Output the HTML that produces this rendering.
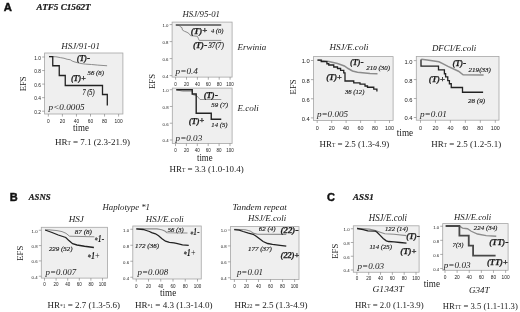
<!DOCTYPE html>
<html><head><meta charset="utf-8"><style>
html,body{margin:0;padding:0;background:#fff;width:520px;height:312px;overflow:hidden}
svg{display:block;filter:blur(0.3px)}
</style></head><body>
<svg width="520" height="312" viewBox="0 0 520 312">
<rect width="520" height="312" fill="#fff"/>
<text x="3.80" y="10.50" font-family='"Liberation Sans", sans-serif' font-size="11.3" font-style="normal" font-weight="bold" text-anchor="start" fill="#111" stroke="#111" stroke-width="0.45">A</text>
<text x="36.60" y="9.90" font-family='"Liberation Serif", serif' font-size="8.3" font-style="italic" font-weight="bold" text-anchor="start" fill="#1a1a1a" textLength="54.00" lengthAdjust="spacingAndGlyphs" stroke="#1a1a1a" stroke-width="0.2">ATF5 C1562T</text>
<text x="9.80" y="200.60" font-family='"Liberation Sans", sans-serif' font-size="11" font-style="normal" font-weight="bold" text-anchor="start" fill="#111" stroke="#111" stroke-width="0.45">B</text>
<text x="28.70" y="199.80" font-family='"Liberation Serif", serif' font-size="8.3" font-style="italic" font-weight="bold" text-anchor="start" fill="#1a1a1a" textLength="21.90" lengthAdjust="spacingAndGlyphs" stroke="#1a1a1a" stroke-width="0.2">ASNS</text>
<text x="327.00" y="200.60" font-family='"Liberation Sans", sans-serif' font-size="11" font-style="normal" font-weight="bold" text-anchor="start" fill="#111" stroke="#111" stroke-width="0.45">C</text>
<text x="353.10" y="199.80" font-family='"Liberation Serif", serif' font-size="8.3" font-style="italic" font-weight="bold" text-anchor="start" fill="#1a1a1a" textLength="20.60" lengthAdjust="spacingAndGlyphs" stroke="#1a1a1a" stroke-width="0.2">ASS1</text>
<rect x="44.60" y="53.00" width="78.30" height="61.00" fill="#efefef" stroke="#a6a6a6" stroke-width="0.8"/>
<line x1="42.10" y1="57.00" x2="44.60" y2="57.00" stroke="#777" stroke-width="0.6"/>
<text x="40.90" y="59.63" font-family='"Liberation Sans", sans-serif' font-size="4.8" font-style="normal" font-weight="normal" text-anchor="end" fill="#1a1a1a">1.0</text>
<line x1="42.10" y1="70.55" x2="44.60" y2="70.55" stroke="#777" stroke-width="0.6"/>
<text x="40.90" y="73.18" font-family='"Liberation Sans", sans-serif' font-size="4.8" font-style="normal" font-weight="normal" text-anchor="end" fill="#1a1a1a">0.8</text>
<line x1="42.10" y1="84.10" x2="44.60" y2="84.10" stroke="#777" stroke-width="0.6"/>
<text x="40.90" y="86.73" font-family='"Liberation Sans", sans-serif' font-size="4.8" font-style="normal" font-weight="normal" text-anchor="end" fill="#1a1a1a">0.6</text>
<line x1="42.10" y1="97.65" x2="44.60" y2="97.65" stroke="#777" stroke-width="0.6"/>
<text x="40.90" y="100.28" font-family='"Liberation Sans", sans-serif' font-size="4.8" font-style="normal" font-weight="normal" text-anchor="end" fill="#1a1a1a">0.4</text>
<line x1="42.10" y1="111.20" x2="44.60" y2="111.20" stroke="#777" stroke-width="0.6"/>
<text x="40.90" y="113.83" font-family='"Liberation Sans", sans-serif' font-size="4.8" font-style="normal" font-weight="normal" text-anchor="end" fill="#1a1a1a">0.2</text>
<line x1="48.35" y1="114.00" x2="48.35" y2="116.60" stroke="#777" stroke-width="0.6"/>
<text x="48.35" y="123.20" font-family='"Liberation Sans", sans-serif' font-size="4.8" font-style="normal" font-weight="normal" text-anchor="middle" fill="#222">0</text>
<line x1="62.40" y1="114.00" x2="62.40" y2="116.60" stroke="#777" stroke-width="0.6"/>
<text x="62.40" y="123.20" font-family='"Liberation Sans", sans-serif' font-size="4.8" font-style="normal" font-weight="normal" text-anchor="middle" fill="#222">20</text>
<line x1="76.45" y1="114.00" x2="76.45" y2="116.60" stroke="#777" stroke-width="0.6"/>
<text x="76.45" y="123.20" font-family='"Liberation Sans", sans-serif' font-size="4.8" font-style="normal" font-weight="normal" text-anchor="middle" fill="#222">40</text>
<line x1="90.50" y1="114.00" x2="90.50" y2="116.60" stroke="#777" stroke-width="0.6"/>
<text x="90.50" y="123.20" font-family='"Liberation Sans", sans-serif' font-size="4.8" font-style="normal" font-weight="normal" text-anchor="middle" fill="#222">60</text>
<line x1="104.55" y1="114.00" x2="104.55" y2="116.60" stroke="#777" stroke-width="0.6"/>
<text x="104.55" y="123.20" font-family='"Liberation Sans", sans-serif' font-size="4.8" font-style="normal" font-weight="normal" text-anchor="middle" fill="#222">80</text>
<line x1="118.60" y1="114.00" x2="118.60" y2="116.60" stroke="#777" stroke-width="0.6"/>
<text x="118.60" y="123.20" font-family='"Liberation Sans", sans-serif' font-size="4.8" font-style="normal" font-weight="normal" text-anchor="middle" fill="#222">100</text>
<polyline points="49.00,56.60 55.90,56.75 60.25,57.60 64.00,58.25 67.10,59.25 70.25,59.75 72.10,61.00 74.00,61.75 77.10,62.60 81.00,63.50 85.25,64.10 91.50,64.50 97.75,65.10 107.10,65.75" fill="none" stroke="#8c8c8c" stroke-width="1.0" stroke-linejoin="miter" stroke-linecap="butt"/>
<polyline points="49.00,56.60 52.75,56.60 52.75,65.75 59.25,65.75 59.25,75.50 65.25,75.50 65.25,85.50 102.50,85.50 102.50,94.50 107.30,94.50 107.30,105.60" fill="none" stroke="#222" stroke-width="1.3" stroke-linejoin="miter" stroke-linecap="butt"/>
<text x="61.30" y="48.80" font-family='"Liberation Serif", serif' font-size="9" font-style="italic" font-weight="normal" text-anchor="start" fill="#1a1a1a" textLength="38.60" lengthAdjust="spacingAndGlyphs">HSJ/91-01</text>
<text x="76.70" y="61.00" font-family='"Liberation Serif", serif' font-size="9" font-weight="bold" font-style="italic" fill="#1a1a1a" stroke="#1a1a1a" stroke-width="0.25" textLength="13.50" lengthAdjust="spacingAndGlyphs">(T)<tspan font-style="normal" font-size="10.35">-</tspan></text>
<text x="87.50" y="75.30" font-family='"Liberation Serif", serif' font-size="7.0" font-style="italic" font-weight="normal" text-anchor="start" fill="#1a1a1a" textLength="16.40" lengthAdjust="spacingAndGlyphs" stroke="#1a1a1a" stroke-width="0.15">56 (8)</text>
<text x="70.90" y="81.00" font-family='"Liberation Serif", serif' font-size="9" font-weight="bold" font-style="italic" fill="#1a1a1a" stroke="#1a1a1a" stroke-width="0.25" textLength="15.00" lengthAdjust="spacingAndGlyphs">(T)<tspan font-style="normal" font-size="9.00" dy="-0.3">+</tspan></text>
<text x="82.40" y="95.30" font-family='"Liberation Serif", serif' font-size="7.2" font-style="italic" font-weight="normal" text-anchor="start" fill="#1a1a1a" textLength="12.20" lengthAdjust="spacingAndGlyphs" stroke="#1a1a1a" stroke-width="0.15">7 (5)</text>
<text x="48.60" y="109.90" font-family='"Liberation Serif", serif' font-size="8.6" font-style="italic" font-weight="normal" text-anchor="start" fill="#1a1a1a" textLength="36.00" lengthAdjust="spacingAndGlyphs">p&lt;0.0005</text>
<text x="73.00" y="130.80" font-family='"Liberation Serif", serif' font-size="9.6" font-style="normal" font-weight="normal" text-anchor="start" fill="#1a1a1a" textLength="15.90" lengthAdjust="spacingAndGlyphs">time</text>
<text x="54.90" y="144.90" font-family='"Liberation Serif", serif' font-size="8.6" fill="#1a1a1a" textLength="75.00" lengthAdjust="spacingAndGlyphs">HR<tspan font-size="5.16">T</tspan> = 7.1 (2.3-21.9)</text>
<text x="0" y="0" transform="translate(25.70,83.80) rotate(-90)" font-family='"Liberation Serif", serif' font-size="9.2" text-anchor="middle" fill="#1a1a1a" textLength="15" lengthAdjust="spacingAndGlyphs">EFS</text>
<rect x="172.10" y="22.10" width="60.00" height="55.00" fill="#efefef" stroke="#a6a6a6" stroke-width="0.8"/>
<line x1="169.60" y1="24.60" x2="172.10" y2="24.60" stroke="#777" stroke-width="0.6"/>
<text x="168.40" y="27.05" font-family='"Liberation Sans", sans-serif' font-size="4.3" font-style="normal" font-weight="normal" text-anchor="end" fill="#1a1a1a">1.0</text>
<line x1="169.60" y1="41.60" x2="172.10" y2="41.60" stroke="#777" stroke-width="0.6"/>
<text x="168.40" y="44.05" font-family='"Liberation Sans", sans-serif' font-size="4.3" font-style="normal" font-weight="normal" text-anchor="end" fill="#1a1a1a">0.8</text>
<line x1="169.60" y1="58.60" x2="172.10" y2="58.60" stroke="#777" stroke-width="0.6"/>
<text x="168.40" y="61.05" font-family='"Liberation Sans", sans-serif' font-size="4.3" font-style="normal" font-weight="normal" text-anchor="end" fill="#1a1a1a">0.6</text>
<line x1="169.60" y1="75.60" x2="172.10" y2="75.60" stroke="#777" stroke-width="0.6"/>
<text x="168.40" y="78.05" font-family='"Liberation Sans", sans-serif' font-size="4.3" font-style="normal" font-weight="normal" text-anchor="end" fill="#1a1a1a">0.4</text>
<line x1="175.60" y1="77.10" x2="175.60" y2="79.70" stroke="#777" stroke-width="0.6"/>
<text x="175.60" y="86.00" font-family='"Liberation Sans", sans-serif' font-size="4.5" font-style="normal" font-weight="normal" text-anchor="middle" fill="#222">0</text>
<line x1="186.50" y1="77.10" x2="186.50" y2="79.70" stroke="#777" stroke-width="0.6"/>
<text x="186.50" y="86.00" font-family='"Liberation Sans", sans-serif' font-size="4.5" font-style="normal" font-weight="normal" text-anchor="middle" fill="#222">20</text>
<line x1="197.40" y1="77.10" x2="197.40" y2="79.70" stroke="#777" stroke-width="0.6"/>
<text x="197.40" y="86.00" font-family='"Liberation Sans", sans-serif' font-size="4.5" font-style="normal" font-weight="normal" text-anchor="middle" fill="#222">40</text>
<line x1="208.30" y1="77.10" x2="208.30" y2="79.70" stroke="#777" stroke-width="0.6"/>
<text x="208.30" y="86.00" font-family='"Liberation Sans", sans-serif' font-size="4.5" font-style="normal" font-weight="normal" text-anchor="middle" fill="#222">60</text>
<line x1="219.20" y1="77.10" x2="219.20" y2="79.70" stroke="#777" stroke-width="0.6"/>
<text x="219.20" y="86.00" font-family='"Liberation Sans", sans-serif' font-size="4.5" font-style="normal" font-weight="normal" text-anchor="middle" fill="#222">80</text>
<line x1="230.10" y1="77.10" x2="230.10" y2="79.70" stroke="#777" stroke-width="0.6"/>
<text x="230.10" y="86.00" font-family='"Liberation Sans", sans-serif' font-size="4.5" font-style="normal" font-weight="normal" text-anchor="middle" fill="#222">100</text>
<polyline points="175.80,25.00 179.30,25.40 180.50,26.90 182.00,27.70 182.40,30.00 184.30,31.20 187.00,32.30 189.30,33.80 190.50,35.60 197.40,36.30 198.50,38.80 199.20,40.40 221.25,40.40" fill="none" stroke="#8c8c8c" stroke-width="1.0" stroke-linejoin="miter" stroke-linecap="butt"/>
<polyline points="175.80,25.00 221.25,25.00" fill="none" stroke="#505050" stroke-width="1.7" stroke-linejoin="miter" stroke-linecap="butt"/>
<text x="182.50" y="17.30" font-family='"Liberation Serif", serif' font-size="9" font-style="italic" font-weight="normal" text-anchor="start" fill="#1a1a1a" textLength="37.50" lengthAdjust="spacingAndGlyphs">HSJ/95-01</text>
<text x="190.70" y="33.70" font-family='"Liberation Serif", serif' font-size="9" font-weight="bold" font-style="italic" fill="#1a1a1a" stroke="#1a1a1a" stroke-width="0.25" textLength="16.60" lengthAdjust="spacingAndGlyphs">(T)<tspan font-style="normal" font-size="9.00" dy="-0.3">+</tspan></text>
<text x="210.90" y="33.30" font-family='"Liberation Serif", serif' font-size="6.2" font-style="italic" font-weight="normal" text-anchor="start" fill="#1a1a1a" textLength="12.50" lengthAdjust="spacingAndGlyphs" stroke="#1a1a1a" stroke-width="0.15">4 (0)</text>
<text x="192.90" y="48.10" font-family='"Liberation Serif", serif' font-size="9" font-weight="bold" font-style="italic" fill="#1a1a1a" stroke="#1a1a1a" stroke-width="0.25" textLength="14.40" lengthAdjust="spacingAndGlyphs">(T)<tspan font-style="normal" font-size="10.35">-</tspan></text>
<text x="208.20" y="48.00" font-family='"Liberation Serif", serif' font-size="7.2" font-style="italic" font-weight="normal" text-anchor="start" fill="#1a1a1a" textLength="15.70" lengthAdjust="spacingAndGlyphs" stroke="#1a1a1a" stroke-width="0.15">37(7)</text>
<text x="175.60" y="74.00" font-family='"Liberation Serif", serif' font-size="8.6" font-style="italic" font-weight="normal" text-anchor="start" fill="#1a1a1a" textLength="22.40" lengthAdjust="spacingAndGlyphs">p=0.4</text>
<text x="237.50" y="49.80" font-family='"Liberation Serif", serif' font-size="9" font-style="italic" font-weight="normal" text-anchor="start" fill="#1a1a1a" textLength="28.80" lengthAdjust="spacingAndGlyphs">Erwinia</text>
<rect x="172.30" y="88.10" width="59.80" height="55.40" fill="#efefef" stroke="#a6a6a6" stroke-width="0.8"/>
<line x1="169.80" y1="89.70" x2="172.30" y2="89.70" stroke="#777" stroke-width="0.6"/>
<text x="168.60" y="92.15" font-family='"Liberation Sans", sans-serif' font-size="4.3" font-style="normal" font-weight="normal" text-anchor="end" fill="#1a1a1a">1.0</text>
<line x1="169.80" y1="106.47" x2="172.30" y2="106.47" stroke="#777" stroke-width="0.6"/>
<text x="168.60" y="108.91" font-family='"Liberation Sans", sans-serif' font-size="4.3" font-style="normal" font-weight="normal" text-anchor="end" fill="#1a1a1a">0.8</text>
<line x1="169.80" y1="123.23" x2="172.30" y2="123.23" stroke="#777" stroke-width="0.6"/>
<text x="168.60" y="125.68" font-family='"Liberation Sans", sans-serif' font-size="4.3" font-style="normal" font-weight="normal" text-anchor="end" fill="#1a1a1a">0.6</text>
<line x1="169.80" y1="140.00" x2="172.30" y2="140.00" stroke="#777" stroke-width="0.6"/>
<text x="168.60" y="142.45" font-family='"Liberation Sans", sans-serif' font-size="4.3" font-style="normal" font-weight="normal" text-anchor="end" fill="#1a1a1a">0.4</text>
<line x1="175.50" y1="143.50" x2="175.50" y2="146.10" stroke="#777" stroke-width="0.6"/>
<text x="175.50" y="151.90" font-family='"Liberation Sans", sans-serif' font-size="4.5" font-style="normal" font-weight="normal" text-anchor="middle" fill="#222">0</text>
<line x1="186.40" y1="143.50" x2="186.40" y2="146.10" stroke="#777" stroke-width="0.6"/>
<text x="186.40" y="151.90" font-family='"Liberation Sans", sans-serif' font-size="4.5" font-style="normal" font-weight="normal" text-anchor="middle" fill="#222">20</text>
<line x1="197.30" y1="143.50" x2="197.30" y2="146.10" stroke="#777" stroke-width="0.6"/>
<text x="197.30" y="151.90" font-family='"Liberation Sans", sans-serif' font-size="4.5" font-style="normal" font-weight="normal" text-anchor="middle" fill="#222">40</text>
<line x1="208.20" y1="143.50" x2="208.20" y2="146.10" stroke="#777" stroke-width="0.6"/>
<text x="208.20" y="151.90" font-family='"Liberation Sans", sans-serif' font-size="4.5" font-style="normal" font-weight="normal" text-anchor="middle" fill="#222">60</text>
<line x1="219.10" y1="143.50" x2="219.10" y2="146.10" stroke="#777" stroke-width="0.6"/>
<text x="219.10" y="151.90" font-family='"Liberation Sans", sans-serif' font-size="4.5" font-style="normal" font-weight="normal" text-anchor="middle" fill="#222">80</text>
<line x1="230.00" y1="143.50" x2="230.00" y2="146.10" stroke="#777" stroke-width="0.6"/>
<text x="230.00" y="151.90" font-family='"Liberation Sans", sans-serif' font-size="4.5" font-style="normal" font-weight="normal" text-anchor="middle" fill="#222">100</text>
<polyline points="176.25,89.75 182.50,91.20 192.25,91.20 192.50,94.50 197.00,96.00 200.00,99.50 221.25,99.50" fill="none" stroke="#8c8c8c" stroke-width="0.9" stroke-linejoin="miter" stroke-linecap="butt"/>
<polyline points="176.25,89.75 192.25,89.75 192.25,94.00 196.20,94.00 196.20,113.25 211.25,113.25 211.25,119.25 221.25,119.25" fill="none" stroke="#222" stroke-width="1.4" stroke-linejoin="miter" stroke-linecap="butt"/>
<text x="203.75" y="97.50" font-family='"Liberation Serif", serif' font-size="9" font-weight="bold" font-style="italic" fill="#1a1a1a" stroke="#1a1a1a" stroke-width="0.25" textLength="14.30" lengthAdjust="spacingAndGlyphs">(T)<tspan font-style="normal" font-size="10.35">-</tspan></text>
<text x="211.30" y="106.80" font-family='"Liberation Serif", serif' font-size="6.5" font-style="italic" font-weight="normal" text-anchor="start" fill="#1a1a1a" textLength="16.70" lengthAdjust="spacingAndGlyphs" stroke="#1a1a1a" stroke-width="0.15">59 (7)</text>
<text x="188.75" y="123.60" font-family='"Liberation Serif", serif' font-size="9" font-weight="bold" font-style="italic" fill="#1a1a1a" stroke="#1a1a1a" stroke-width="0.25" textLength="15.70" lengthAdjust="spacingAndGlyphs">(T)<tspan font-style="normal" font-size="9.00" dy="-0.3">+</tspan></text>
<text x="211.30" y="126.90" font-family='"Liberation Serif", serif' font-size="6.5" font-style="italic" font-weight="normal" text-anchor="start" fill="#1a1a1a" textLength="16.20" lengthAdjust="spacingAndGlyphs" stroke="#1a1a1a" stroke-width="0.15">14 (5)</text>
<text x="175.60" y="141.00" font-family='"Liberation Serif", serif' font-size="8.6" font-style="italic" font-weight="normal" text-anchor="start" fill="#1a1a1a" textLength="26.60" lengthAdjust="spacingAndGlyphs">p=0.03</text>
<text x="237.50" y="111.00" font-family='"Liberation Serif", serif' font-size="9" font-style="italic" font-weight="normal" text-anchor="start" fill="#1a1a1a" textLength="21.30" lengthAdjust="spacingAndGlyphs">E.coli</text>
<text x="197.00" y="160.80" font-family='"Liberation Serif", serif' font-size="9.6" font-style="normal" font-weight="normal" text-anchor="start" fill="#1a1a1a" textLength="15.60" lengthAdjust="spacingAndGlyphs">time</text>
<text x="169.50" y="172.20" font-family='"Liberation Serif", serif' font-size="8.6" fill="#1a1a1a" textLength="74.20" lengthAdjust="spacingAndGlyphs">HR<tspan font-size="5.16">T</tspan> = 3.3 (1.0-10.4)</text>
<text x="0" y="0" transform="translate(154.70,81.50) rotate(-90)" font-family='"Liberation Serif", serif' font-size="9.2" text-anchor="middle" fill="#1a1a1a" textLength="15" lengthAdjust="spacingAndGlyphs">EFS</text>
<rect x="313.40" y="56.60" width="79.70" height="63.80" fill="#efefef" stroke="#a6a6a6" stroke-width="0.8"/>
<line x1="310.90" y1="60.50" x2="313.40" y2="60.50" stroke="#777" stroke-width="0.6"/>
<text x="309.70" y="63.49" font-family='"Liberation Sans", sans-serif' font-size="5.8" font-style="normal" font-weight="normal" text-anchor="end" fill="#1a1a1a">1.0</text>
<line x1="310.90" y1="79.63" x2="313.40" y2="79.63" stroke="#777" stroke-width="0.6"/>
<text x="309.70" y="82.62" font-family='"Liberation Sans", sans-serif' font-size="5.8" font-style="normal" font-weight="normal" text-anchor="end" fill="#1a1a1a">0.8</text>
<line x1="310.90" y1="98.77" x2="313.40" y2="98.77" stroke="#777" stroke-width="0.6"/>
<text x="309.70" y="101.75" font-family='"Liberation Sans", sans-serif' font-size="5.8" font-style="normal" font-weight="normal" text-anchor="end" fill="#1a1a1a">0.6</text>
<line x1="310.90" y1="117.90" x2="313.40" y2="117.90" stroke="#777" stroke-width="0.6"/>
<text x="309.70" y="120.89" font-family='"Liberation Sans", sans-serif' font-size="5.8" font-style="normal" font-weight="normal" text-anchor="end" fill="#1a1a1a">0.4</text>
<line x1="317.20" y1="120.40" x2="317.20" y2="123.00" stroke="#777" stroke-width="0.6"/>
<text x="317.20" y="130.00" font-family='"Liberation Sans", sans-serif' font-size="5.4" font-style="normal" font-weight="normal" text-anchor="middle" fill="#222">0</text>
<line x1="331.66" y1="120.40" x2="331.66" y2="123.00" stroke="#777" stroke-width="0.6"/>
<text x="331.66" y="130.00" font-family='"Liberation Sans", sans-serif' font-size="5.4" font-style="normal" font-weight="normal" text-anchor="middle" fill="#222">20</text>
<line x1="346.12" y1="120.40" x2="346.12" y2="123.00" stroke="#777" stroke-width="0.6"/>
<text x="346.12" y="130.00" font-family='"Liberation Sans", sans-serif' font-size="5.4" font-style="normal" font-weight="normal" text-anchor="middle" fill="#222">40</text>
<line x1="360.58" y1="120.40" x2="360.58" y2="123.00" stroke="#777" stroke-width="0.6"/>
<text x="360.58" y="130.00" font-family='"Liberation Sans", sans-serif' font-size="5.4" font-style="normal" font-weight="normal" text-anchor="middle" fill="#222">60</text>
<line x1="375.04" y1="120.40" x2="375.04" y2="123.00" stroke="#777" stroke-width="0.6"/>
<text x="375.04" y="130.00" font-family='"Liberation Sans", sans-serif' font-size="5.4" font-style="normal" font-weight="normal" text-anchor="middle" fill="#222">80</text>
<line x1="389.50" y1="120.40" x2="389.50" y2="123.00" stroke="#777" stroke-width="0.6"/>
<text x="389.50" y="130.00" font-family='"Liberation Sans", sans-serif' font-size="5.4" font-style="normal" font-weight="normal" text-anchor="middle" fill="#222">100</text>
<polyline points="317.50,60.10 328.75,61.60 337.50,63.50 344.40,66.00 348.10,68.50 352.50,71.00 357.50,72.25 365.00,72.90 370.00,73.50 377.50,73.75" fill="none" stroke="#8c8c8c" stroke-width="1.5" stroke-linejoin="miter" stroke-linecap="butt"/>
<polyline points="317.50,60.10 321.25,60.10 321.25,61.60 326.90,61.60 326.90,63.75 328.75,63.75 328.75,65.00 333.75,65.00 333.75,67.00 337.50,67.00 337.50,68.50 340.60,68.50 340.60,70.40 343.75,70.40 343.75,72.90 345.00,72.90 345.00,81.00 353.75,81.00 353.75,82.90 360.00,82.90 360.00,84.10 365.00,84.10 365.00,86.00 367.50,86.00 367.50,87.25 373.75,87.25 373.75,89.10 376.90,89.10 376.90,91.60" fill="none" stroke="#222" stroke-width="1.3" stroke-linejoin="miter" stroke-linecap="butt"/>
<text x="329.40" y="49.90" font-family='"Liberation Serif", serif' font-size="9" font-style="italic" font-weight="normal" text-anchor="start" fill="#1a1a1a" textLength="39.10" lengthAdjust="spacingAndGlyphs">HSJ/E.coli</text>
<text x="350.00" y="65.30" font-family='"Liberation Serif", serif' font-size="9" font-weight="bold" font-style="italic" fill="#1a1a1a" stroke="#1a1a1a" stroke-width="0.25" textLength="13.50" lengthAdjust="spacingAndGlyphs">(T)<tspan font-style="normal" font-size="10.35">-</tspan></text>
<text x="366.30" y="69.50" font-family='"Liberation Serif", serif' font-size="6.8" font-style="italic" font-weight="normal" text-anchor="start" fill="#1a1a1a" textLength="23.70" lengthAdjust="spacingAndGlyphs" stroke="#1a1a1a" stroke-width="0.15">210 (30)</text>
<text x="326.25" y="80.00" font-family='"Liberation Serif", serif' font-size="9" font-weight="bold" font-style="italic" fill="#1a1a1a" stroke="#1a1a1a" stroke-width="0.25" textLength="15.60" lengthAdjust="spacingAndGlyphs">(T)<tspan font-style="normal" font-size="9.00" dy="-0.3">+</tspan></text>
<text x="345.00" y="93.70" font-family='"Liberation Serif", serif' font-size="7.0" font-style="italic" font-weight="normal" text-anchor="start" fill="#1a1a1a" textLength="19.40" lengthAdjust="spacingAndGlyphs" stroke="#1a1a1a" stroke-width="0.15">36 (12)</text>
<text x="316.90" y="116.90" font-family='"Liberation Serif", serif' font-size="9.2" font-style="italic" font-weight="normal" text-anchor="start" fill="#1a1a1a" textLength="31.20" lengthAdjust="spacingAndGlyphs">p=0.005</text>
<text x="396.80" y="136.20" font-family='"Liberation Serif", serif' font-size="9.6" font-style="normal" font-weight="normal" text-anchor="start" fill="#1a1a1a" textLength="16.30" lengthAdjust="spacingAndGlyphs">time</text>
<text x="319.50" y="146.60" font-family='"Liberation Serif", serif' font-size="8.6" fill="#1a1a1a" textLength="69.70" lengthAdjust="spacingAndGlyphs">HR<tspan font-size="5.16">T</tspan> = 2.5 (1.3-4.9)</text>
<text x="0" y="0" transform="translate(295.80,86.90) rotate(-90)" font-family='"Liberation Serif", serif' font-size="9.2" text-anchor="middle" fill="#1a1a1a" textLength="15" lengthAdjust="spacingAndGlyphs">EFS</text>
<rect x="416.30" y="56.50" width="82.70" height="63.70" fill="#efefef" stroke="#a6a6a6" stroke-width="0.8"/>
<line x1="413.80" y1="60.60" x2="416.30" y2="60.60" stroke="#777" stroke-width="0.6"/>
<text x="412.60" y="63.59" font-family='"Liberation Sans", sans-serif' font-size="5.8" font-style="normal" font-weight="normal" text-anchor="end" fill="#1a1a1a">1.0</text>
<line x1="413.80" y1="79.57" x2="416.30" y2="79.57" stroke="#777" stroke-width="0.6"/>
<text x="412.60" y="82.55" font-family='"Liberation Sans", sans-serif' font-size="5.8" font-style="normal" font-weight="normal" text-anchor="end" fill="#1a1a1a">0.8</text>
<line x1="413.80" y1="98.53" x2="416.30" y2="98.53" stroke="#777" stroke-width="0.6"/>
<text x="412.60" y="101.52" font-family='"Liberation Sans", sans-serif' font-size="5.8" font-style="normal" font-weight="normal" text-anchor="end" fill="#1a1a1a">0.6</text>
<line x1="413.80" y1="117.50" x2="416.30" y2="117.50" stroke="#777" stroke-width="0.6"/>
<text x="412.60" y="120.49" font-family='"Liberation Sans", sans-serif' font-size="5.8" font-style="normal" font-weight="normal" text-anchor="end" fill="#1a1a1a">0.4</text>
<line x1="420.50" y1="120.20" x2="420.50" y2="122.80" stroke="#777" stroke-width="0.6"/>
<text x="420.50" y="130.00" font-family='"Liberation Sans", sans-serif' font-size="5.4" font-style="normal" font-weight="normal" text-anchor="middle" fill="#222">0</text>
<line x1="435.46" y1="120.20" x2="435.46" y2="122.80" stroke="#777" stroke-width="0.6"/>
<text x="435.46" y="130.00" font-family='"Liberation Sans", sans-serif' font-size="5.4" font-style="normal" font-weight="normal" text-anchor="middle" fill="#222">20</text>
<line x1="450.42" y1="120.20" x2="450.42" y2="122.80" stroke="#777" stroke-width="0.6"/>
<text x="450.42" y="130.00" font-family='"Liberation Sans", sans-serif' font-size="5.4" font-style="normal" font-weight="normal" text-anchor="middle" fill="#222">40</text>
<line x1="465.38" y1="120.20" x2="465.38" y2="122.80" stroke="#777" stroke-width="0.6"/>
<text x="465.38" y="130.00" font-family='"Liberation Sans", sans-serif' font-size="5.4" font-style="normal" font-weight="normal" text-anchor="middle" fill="#222">60</text>
<line x1="480.34" y1="120.20" x2="480.34" y2="122.80" stroke="#777" stroke-width="0.6"/>
<text x="480.34" y="130.00" font-family='"Liberation Sans", sans-serif' font-size="5.4" font-style="normal" font-weight="normal" text-anchor="middle" fill="#222">80</text>
<line x1="495.30" y1="120.20" x2="495.30" y2="122.80" stroke="#777" stroke-width="0.6"/>
<text x="495.30" y="130.00" font-family='"Liberation Sans", sans-serif' font-size="5.4" font-style="normal" font-weight="normal" text-anchor="middle" fill="#222">100</text>
<polyline points="421.30,59.20 427.20,59.90 438.90,61.80 442.20,63.40 448.00,66.40 458.50,71.20 463.10,74.80 483.60,75.10" fill="none" stroke="#8c8c8c" stroke-width="1.5" stroke-linejoin="miter" stroke-linecap="butt"/>
<polyline points="421.00,59.50 421.00,66.10 438.50,66.10 438.50,69.90 444.40,69.90 444.40,73.75 445.60,73.75 445.60,76.90 447.75,76.90 447.75,80.60 449.40,80.60 449.40,83.75 451.25,83.75 451.25,87.50 462.50,87.50 462.50,92.25 483.10,92.25" fill="none" stroke="#222" stroke-width="1.3" stroke-linejoin="miter" stroke-linecap="butt"/>
<text x="431.90" y="50.80" font-family='"Liberation Serif", serif' font-size="9" font-style="italic" font-weight="normal" text-anchor="start" fill="#1a1a1a" textLength="44.30" lengthAdjust="spacingAndGlyphs">DFCI/E.coli</text>
<text x="452.50" y="66.00" font-family='"Liberation Serif", serif' font-size="9" font-weight="bold" font-style="italic" fill="#1a1a1a" stroke="#1a1a1a" stroke-width="0.25" textLength="13.80" lengthAdjust="spacingAndGlyphs">(T)<tspan font-style="normal" font-size="10.35">-</tspan></text>
<text x="468.50" y="72.30" font-family='"Liberation Serif", serif' font-size="6.7" font-style="italic" font-weight="normal" text-anchor="start" fill="#1a1a1a" textLength="22.50" lengthAdjust="spacingAndGlyphs" stroke="#1a1a1a" stroke-width="0.15">219(33)</text>
<text x="428.75" y="82.40" font-family='"Liberation Serif", serif' font-size="9" font-weight="bold" font-style="italic" fill="#1a1a1a" stroke="#1a1a1a" stroke-width="0.25" textLength="16.20" lengthAdjust="spacingAndGlyphs">(T)<tspan font-style="normal" font-size="9.00" dy="-0.3">+</tspan></text>
<text x="468.10" y="103.10" font-family='"Liberation Serif", serif' font-size="6.5" font-style="italic" font-weight="normal" text-anchor="start" fill="#1a1a1a" textLength="16.90" lengthAdjust="spacingAndGlyphs" stroke="#1a1a1a" stroke-width="0.15">28 (9)</text>
<text x="420.00" y="117.20" font-family='"Liberation Serif", serif' font-size="9.2" font-style="italic" font-weight="normal" text-anchor="start" fill="#1a1a1a" textLength="26.90" lengthAdjust="spacingAndGlyphs">p=0.01</text>
<text x="431.30" y="146.90" font-family='"Liberation Serif", serif' font-size="8.6" fill="#1a1a1a" textLength="70.00" lengthAdjust="spacingAndGlyphs">HR<tspan font-size="5.16">T</tspan> = 2.5 (1.2-5.1)</text>
<rect x="41.30" y="227.30" width="66.20" height="50.80" fill="#efefef" stroke="#a6a6a6" stroke-width="0.8"/>
<line x1="38.80" y1="230.25" x2="41.30" y2="230.25" stroke="#777" stroke-width="0.6"/>
<text x="37.60" y="232.70" font-family='"Liberation Sans", sans-serif' font-size="4.3" font-style="normal" font-weight="normal" text-anchor="end" fill="#1a1a1a">1.0</text>
<line x1="38.80" y1="245.58" x2="41.30" y2="245.58" stroke="#777" stroke-width="0.6"/>
<text x="37.60" y="248.03" font-family='"Liberation Sans", sans-serif' font-size="4.3" font-style="normal" font-weight="normal" text-anchor="end" fill="#1a1a1a">0.8</text>
<line x1="38.80" y1="260.92" x2="41.30" y2="260.92" stroke="#777" stroke-width="0.6"/>
<text x="37.60" y="263.36" font-family='"Liberation Sans", sans-serif' font-size="4.3" font-style="normal" font-weight="normal" text-anchor="end" fill="#1a1a1a">0.6</text>
<line x1="38.80" y1="276.25" x2="41.30" y2="276.25" stroke="#777" stroke-width="0.6"/>
<text x="37.60" y="278.70" font-family='"Liberation Sans", sans-serif' font-size="4.3" font-style="normal" font-weight="normal" text-anchor="end" fill="#1a1a1a">0.4</text>
<line x1="44.50" y1="278.10" x2="44.50" y2="280.70" stroke="#777" stroke-width="0.6"/>
<text x="44.50" y="286.40" font-family='"Liberation Sans", sans-serif' font-size="4.5" font-style="normal" font-weight="normal" text-anchor="middle" fill="#222">0</text>
<line x1="56.10" y1="278.10" x2="56.10" y2="280.70" stroke="#777" stroke-width="0.6"/>
<text x="56.10" y="286.40" font-family='"Liberation Sans", sans-serif' font-size="4.5" font-style="normal" font-weight="normal" text-anchor="middle" fill="#222">20</text>
<line x1="67.70" y1="278.10" x2="67.70" y2="280.70" stroke="#777" stroke-width="0.6"/>
<text x="67.70" y="286.40" font-family='"Liberation Sans", sans-serif' font-size="4.5" font-style="normal" font-weight="normal" text-anchor="middle" fill="#222">40</text>
<line x1="79.30" y1="278.10" x2="79.30" y2="280.70" stroke="#777" stroke-width="0.6"/>
<text x="79.30" y="286.40" font-family='"Liberation Sans", sans-serif' font-size="4.5" font-style="normal" font-weight="normal" text-anchor="middle" fill="#222">60</text>
<line x1="90.90" y1="278.10" x2="90.90" y2="280.70" stroke="#777" stroke-width="0.6"/>
<text x="90.90" y="286.40" font-family='"Liberation Sans", sans-serif' font-size="4.5" font-style="normal" font-weight="normal" text-anchor="middle" fill="#222">80</text>
<line x1="102.50" y1="278.10" x2="102.50" y2="280.70" stroke="#777" stroke-width="0.6"/>
<text x="102.50" y="286.40" font-family='"Liberation Sans", sans-serif' font-size="4.5" font-style="normal" font-weight="normal" text-anchor="middle" fill="#222">100</text>
<polyline points="45.10,230.00 48.25,229.75 57.00,230.60 62.00,231.60 66.00,233.30 69.50,236.20 94.40,236.80" fill="none" stroke="#8c8c8c" stroke-width="1.0" stroke-linejoin="miter" stroke-linecap="butt"/>
<polyline points="45.10,230.00 52.00,232.50 58.25,235.00 65.75,237.50 68.90,240.60 72.60,243.75 77.00,245.00 84.50,246.25 93.90,247.50" fill="none" stroke="#222" stroke-width="1.3" stroke-linejoin="miter" stroke-linecap="butt"/>
<text x="68.70" y="221.50" font-family='"Liberation Serif", serif' font-size="9.2" font-style="italic" font-weight="normal" text-anchor="start" fill="#1a1a1a" textLength="15.20" lengthAdjust="spacingAndGlyphs">HSJ</text>
<text x="74.80" y="234.00" font-family='"Liberation Serif", serif' font-size="6.5" font-style="italic" font-weight="normal" text-anchor="start" fill="#1a1a1a" textLength="17.20" lengthAdjust="spacingAndGlyphs" stroke="#1a1a1a" stroke-width="0.15">87 (8)</text>
<text x="94.2" y="242.0" font-family='"Liberation Serif", serif' font-size="8.6" font-weight="bold" font-style="italic" fill="#1a1a1a" textLength="10.2" lengthAdjust="spacingAndGlyphs"><tspan dy="1.2">*</tspan><tspan font-size="9.6" dy="-1.2">1</tspan><tspan font-style="normal" font-size="10.5">-</tspan></text>
<text x="48.90" y="250.50" font-family='"Liberation Serif", serif' font-size="6.6" font-style="italic" font-weight="normal" text-anchor="start" fill="#1a1a1a" textLength="23.70" lengthAdjust="spacingAndGlyphs" stroke="#1a1a1a" stroke-width="0.15">229 (52)</text>
<text x="87.3" y="258.6" font-family='"Liberation Serif", serif' font-size="8.6" font-weight="bold" font-style="italic" fill="#1a1a1a" textLength="12.4" lengthAdjust="spacingAndGlyphs"><tspan dy="1.2">*</tspan><tspan font-size="9.6" dy="-1.2">1</tspan><tspan font-style="normal" font-weight="normal" font-size="9.5">+</tspan></text>
<text x="45.60" y="274.60" font-family='"Liberation Serif", serif' font-size="8.6" font-style="italic" font-weight="normal" text-anchor="start" fill="#1a1a1a" textLength="30.60" lengthAdjust="spacingAndGlyphs">p=0.007</text>
<text x="47.50" y="308.20" font-family='"Liberation Serif", serif' font-size="8.6" fill="#1a1a1a" textLength="72.50" lengthAdjust="spacingAndGlyphs">HR<tspan font-size="5.16">*1</tspan> = 2.7 (1.3-5.6)</text>
<text x="0" y="0" transform="translate(22.60,253.20) rotate(-90)" font-family='"Liberation Serif", serif' font-size="9.2" text-anchor="middle" fill="#1a1a1a" textLength="15" lengthAdjust="spacingAndGlyphs">EFS</text>
<rect x="132.80" y="226.00" width="68.45" height="53.00" fill="#efefef" stroke="#a6a6a6" stroke-width="0.8"/>
<line x1="130.30" y1="229.25" x2="132.80" y2="229.25" stroke="#777" stroke-width="0.6"/>
<text x="129.10" y="231.70" font-family='"Liberation Sans", sans-serif' font-size="4.3" font-style="normal" font-weight="normal" text-anchor="end" fill="#1a1a1a">1.0</text>
<line x1="130.30" y1="245.25" x2="132.80" y2="245.25" stroke="#777" stroke-width="0.6"/>
<text x="129.10" y="247.70" font-family='"Liberation Sans", sans-serif' font-size="4.3" font-style="normal" font-weight="normal" text-anchor="end" fill="#1a1a1a">0.8</text>
<line x1="130.30" y1="261.25" x2="132.80" y2="261.25" stroke="#777" stroke-width="0.6"/>
<text x="129.10" y="263.70" font-family='"Liberation Sans", sans-serif' font-size="4.3" font-style="normal" font-weight="normal" text-anchor="end" fill="#1a1a1a">0.6</text>
<line x1="130.30" y1="277.25" x2="132.80" y2="277.25" stroke="#777" stroke-width="0.6"/>
<text x="129.10" y="279.70" font-family='"Liberation Sans", sans-serif' font-size="4.3" font-style="normal" font-weight="normal" text-anchor="end" fill="#1a1a1a">0.4</text>
<line x1="136.25" y1="279.00" x2="136.25" y2="281.60" stroke="#777" stroke-width="0.6"/>
<text x="136.25" y="287.60" font-family='"Liberation Sans", sans-serif' font-size="4.5" font-style="normal" font-weight="normal" text-anchor="middle" fill="#222">0</text>
<line x1="148.50" y1="279.00" x2="148.50" y2="281.60" stroke="#777" stroke-width="0.6"/>
<text x="148.50" y="287.60" font-family='"Liberation Sans", sans-serif' font-size="4.5" font-style="normal" font-weight="normal" text-anchor="middle" fill="#222">20</text>
<line x1="160.75" y1="279.00" x2="160.75" y2="281.60" stroke="#777" stroke-width="0.6"/>
<text x="160.75" y="287.60" font-family='"Liberation Sans", sans-serif' font-size="4.5" font-style="normal" font-weight="normal" text-anchor="middle" fill="#222">40</text>
<line x1="173.00" y1="279.00" x2="173.00" y2="281.60" stroke="#777" stroke-width="0.6"/>
<text x="173.00" y="287.60" font-family='"Liberation Sans", sans-serif' font-size="4.5" font-style="normal" font-weight="normal" text-anchor="middle" fill="#222">60</text>
<line x1="185.25" y1="279.00" x2="185.25" y2="281.60" stroke="#777" stroke-width="0.6"/>
<text x="185.25" y="287.60" font-family='"Liberation Sans", sans-serif' font-size="4.5" font-style="normal" font-weight="normal" text-anchor="middle" fill="#222">80</text>
<line x1="197.50" y1="279.00" x2="197.50" y2="281.60" stroke="#777" stroke-width="0.6"/>
<text x="197.50" y="287.60" font-family='"Liberation Sans", sans-serif' font-size="4.5" font-style="normal" font-weight="normal" text-anchor="middle" fill="#222">100</text>
<polyline points="136.30,228.90 157.10,228.90 161.70,229.80 164.80,231.00 167.00,232.70 187.50,233.00" fill="none" stroke="#8c8c8c" stroke-width="1.1" stroke-linejoin="miter" stroke-linecap="butt"/>
<polyline points="136.30,228.80 143.20,229.50 146.30,230.50 149.40,231.50 151.70,232.70 155.50,233.80 158.60,235.80 161.70,238.50 165.50,241.20 169.40,242.30 174.00,242.90 177.50,243.60 182.50,244.80 188.75,245.40" fill="none" stroke="#222" stroke-width="1.3" stroke-linejoin="miter" stroke-linecap="butt"/>
<text x="102.50" y="209.90" font-family='"Liberation Serif", serif' font-size="9" font-style="italic" font-weight="normal" text-anchor="start" fill="#1a1a1a" textLength="47.50" lengthAdjust="spacingAndGlyphs">Haplotype *1</text>
<text x="145.80" y="221.80" font-family='"Liberation Serif", serif' font-size="9.2" font-style="italic" font-weight="normal" text-anchor="start" fill="#1a1a1a" textLength="38.00" lengthAdjust="spacingAndGlyphs">HSJ/E.coli</text>
<text x="167.70" y="231.80" font-family='"Liberation Serif", serif' font-size="6.5" font-style="italic" font-weight="normal" text-anchor="start" fill="#1a1a1a" textLength="16.00" lengthAdjust="spacingAndGlyphs" stroke="#1a1a1a" stroke-width="0.15">56 (3)</text>
<text x="189.9" y="235.4" font-family='"Liberation Serif", serif' font-size="8.6" font-weight="bold" font-style="italic" fill="#1a1a1a" textLength="9.7" lengthAdjust="spacingAndGlyphs"><tspan dy="1.2">*</tspan><tspan font-size="9.6" dy="-1.2">1</tspan><tspan font-style="normal" font-size="10.5">-</tspan></text>
<text x="135.00" y="247.50" font-family='"Liberation Serif", serif' font-size="6.5" font-style="italic" font-weight="normal" text-anchor="start" fill="#1a1a1a" textLength="24.00" lengthAdjust="spacingAndGlyphs" stroke="#1a1a1a" stroke-width="0.15">172 (36)</text>
<text x="183.2" y="255.6" font-family='"Liberation Serif", serif' font-size="8.6" font-weight="bold" font-style="italic" fill="#1a1a1a" textLength="12.2" lengthAdjust="spacingAndGlyphs"><tspan dy="1.2">*</tspan><tspan font-size="9.6" dy="-1.2">1</tspan><tspan font-style="normal" font-weight="normal" font-size="9.5">+</tspan></text>
<text x="137.50" y="274.60" font-family='"Liberation Serif", serif' font-size="8.6" font-style="italic" font-weight="normal" text-anchor="start" fill="#1a1a1a" textLength="30.60" lengthAdjust="spacingAndGlyphs">p=0.008</text>
<text x="160.00" y="296.30" font-family='"Liberation Serif", serif' font-size="9.6" font-style="normal" font-weight="normal" text-anchor="start" fill="#1a1a1a" textLength="16.20" lengthAdjust="spacingAndGlyphs">time</text>
<text x="135.00" y="308.40" font-family='"Liberation Serif", serif' font-size="8.6" fill="#1a1a1a" textLength="77.50" lengthAdjust="spacingAndGlyphs">HR<tspan font-size="5.16">*1</tspan> = 4.3 (1.3-14.0)</text>
<rect x="230.40" y="226.60" width="68.60" height="52.80" fill="#efefef" stroke="#a6a6a6" stroke-width="0.8"/>
<line x1="227.90" y1="230.00" x2="230.40" y2="230.00" stroke="#777" stroke-width="0.6"/>
<text x="226.70" y="232.45" font-family='"Liberation Sans", sans-serif' font-size="4.3" font-style="normal" font-weight="normal" text-anchor="end" fill="#1a1a1a">1.0</text>
<line x1="227.90" y1="245.92" x2="230.40" y2="245.92" stroke="#777" stroke-width="0.6"/>
<text x="226.70" y="248.36" font-family='"Liberation Sans", sans-serif' font-size="4.3" font-style="normal" font-weight="normal" text-anchor="end" fill="#1a1a1a">0.8</text>
<line x1="227.90" y1="261.83" x2="230.40" y2="261.83" stroke="#777" stroke-width="0.6"/>
<text x="226.70" y="264.28" font-family='"Liberation Sans", sans-serif' font-size="4.3" font-style="normal" font-weight="normal" text-anchor="end" fill="#1a1a1a">0.6</text>
<line x1="227.90" y1="277.75" x2="230.40" y2="277.75" stroke="#777" stroke-width="0.6"/>
<text x="226.70" y="280.20" font-family='"Liberation Sans", sans-serif' font-size="4.3" font-style="normal" font-weight="normal" text-anchor="end" fill="#1a1a1a">0.4</text>
<line x1="234.40" y1="279.40" x2="234.40" y2="282.00" stroke="#777" stroke-width="0.6"/>
<text x="234.40" y="288.00" font-family='"Liberation Sans", sans-serif' font-size="4.5" font-style="normal" font-weight="normal" text-anchor="middle" fill="#222">0</text>
<line x1="246.44" y1="279.40" x2="246.44" y2="282.00" stroke="#777" stroke-width="0.6"/>
<text x="246.44" y="288.00" font-family='"Liberation Sans", sans-serif' font-size="4.5" font-style="normal" font-weight="normal" text-anchor="middle" fill="#222">20</text>
<line x1="258.48" y1="279.40" x2="258.48" y2="282.00" stroke="#777" stroke-width="0.6"/>
<text x="258.48" y="288.00" font-family='"Liberation Sans", sans-serif' font-size="4.5" font-style="normal" font-weight="normal" text-anchor="middle" fill="#222">40</text>
<line x1="270.52" y1="279.40" x2="270.52" y2="282.00" stroke="#777" stroke-width="0.6"/>
<text x="270.52" y="288.00" font-family='"Liberation Sans", sans-serif' font-size="4.5" font-style="normal" font-weight="normal" text-anchor="middle" fill="#222">60</text>
<line x1="282.56" y1="279.40" x2="282.56" y2="282.00" stroke="#777" stroke-width="0.6"/>
<text x="282.56" y="288.00" font-family='"Liberation Sans", sans-serif' font-size="4.5" font-style="normal" font-weight="normal" text-anchor="middle" fill="#222">80</text>
<line x1="294.60" y1="279.40" x2="294.60" y2="282.00" stroke="#777" stroke-width="0.6"/>
<text x="294.60" y="288.00" font-family='"Liberation Sans", sans-serif' font-size="4.5" font-style="normal" font-weight="normal" text-anchor="middle" fill="#222">100</text>
<polyline points="234.20,229.40 245.40,229.80 250.00,230.90 253.80,233.40 257.70,234.20 286.25,234.40" fill="none" stroke="#8c8c8c" stroke-width="1.1" stroke-linejoin="miter" stroke-linecap="butt"/>
<polyline points="234.20,229.60 239.20,230.20 243.10,231.50 248.50,233.10 253.10,234.30 256.20,236.20 259.20,238.50 263.10,241.50 267.70,243.50 272.50,244.40 280.00,245.40 286.25,246.20" fill="none" stroke="#222" stroke-width="1.3" stroke-linejoin="miter" stroke-linecap="butt"/>
<text x="232.50" y="210.10" font-family='"Liberation Serif", serif' font-size="9" font-style="italic" font-weight="normal" text-anchor="start" fill="#1a1a1a" textLength="54.40" lengthAdjust="spacingAndGlyphs">Tandem repeat</text>
<text x="248.10" y="221.30" font-family='"Liberation Serif", serif' font-size="9" font-style="italic" font-weight="normal" text-anchor="start" fill="#1a1a1a" textLength="38.10" lengthAdjust="spacingAndGlyphs">HSJ/E.coli</text>
<text x="258.80" y="231.20" font-family='"Liberation Serif", serif' font-size="6.5" font-style="italic" font-weight="normal" text-anchor="start" fill="#1a1a1a" textLength="16.80" lengthAdjust="spacingAndGlyphs" stroke="#1a1a1a" stroke-width="0.15">62 (4)</text>
<text x="280.60" y="232.60" font-family='"Liberation Serif", serif' font-size="8.8" font-weight="bold" font-style="italic" fill="#1a1a1a" stroke="#1a1a1a" stroke-width="0.25" textLength="18.10" lengthAdjust="spacingAndGlyphs">(22)<tspan font-style="normal" font-size="10.12">-</tspan></text>
<text x="248.10" y="250.80" font-family='"Liberation Serif", serif' font-size="6.4" font-style="italic" font-weight="normal" text-anchor="start" fill="#1a1a1a" textLength="23.80" lengthAdjust="spacingAndGlyphs" stroke="#1a1a1a" stroke-width="0.15">177 (37)</text>
<text x="280.60" y="258.30" font-family='"Liberation Serif", serif' font-size="8.8" font-weight="bold" font-style="italic" fill="#1a1a1a" stroke="#1a1a1a" stroke-width="0.25" textLength="18.80" lengthAdjust="spacingAndGlyphs">(22)<tspan font-style="normal" font-size="8.80" dy="-0.3">+</tspan></text>
<text x="236.90" y="275.40" font-family='"Liberation Serif", serif' font-size="8.6" font-style="italic" font-weight="normal" text-anchor="start" fill="#1a1a1a" textLength="26.20" lengthAdjust="spacingAndGlyphs">p=0.01</text>
<text x="234.50" y="308.20" font-family='"Liberation Serif", serif' font-size="8.6" fill="#1a1a1a" textLength="73.00" lengthAdjust="spacingAndGlyphs">HR<tspan font-size="5.16">22</tspan> = 2.5 (1.3-4.9)</text>
<rect x="353.30" y="225.80" width="65.80" height="46.45" fill="#efefef" stroke="#a6a6a6" stroke-width="0.8"/>
<line x1="350.80" y1="228.75" x2="353.30" y2="228.75" stroke="#777" stroke-width="0.6"/>
<text x="349.60" y="231.20" font-family='"Liberation Sans", sans-serif' font-size="4.3" font-style="normal" font-weight="normal" text-anchor="end" fill="#1a1a1a">1.0</text>
<line x1="350.80" y1="242.50" x2="353.30" y2="242.50" stroke="#777" stroke-width="0.6"/>
<text x="349.60" y="244.95" font-family='"Liberation Sans", sans-serif' font-size="4.3" font-style="normal" font-weight="normal" text-anchor="end" fill="#1a1a1a">0.8</text>
<line x1="350.80" y1="256.25" x2="353.30" y2="256.25" stroke="#777" stroke-width="0.6"/>
<text x="349.60" y="258.70" font-family='"Liberation Sans", sans-serif' font-size="4.3" font-style="normal" font-weight="normal" text-anchor="end" fill="#1a1a1a">0.6</text>
<line x1="350.80" y1="270.00" x2="353.30" y2="270.00" stroke="#777" stroke-width="0.6"/>
<text x="349.60" y="272.45" font-family='"Liberation Sans", sans-serif' font-size="4.3" font-style="normal" font-weight="normal" text-anchor="end" fill="#1a1a1a">0.4</text>
<line x1="356.90" y1="272.25" x2="356.90" y2="274.85" stroke="#777" stroke-width="0.6"/>
<text x="356.90" y="280.40" font-family='"Liberation Sans", sans-serif' font-size="4.5" font-style="normal" font-weight="normal" text-anchor="middle" fill="#222">0</text>
<line x1="368.72" y1="272.25" x2="368.72" y2="274.85" stroke="#777" stroke-width="0.6"/>
<text x="368.72" y="280.40" font-family='"Liberation Sans", sans-serif' font-size="4.5" font-style="normal" font-weight="normal" text-anchor="middle" fill="#222">20</text>
<line x1="380.54" y1="272.25" x2="380.54" y2="274.85" stroke="#777" stroke-width="0.6"/>
<text x="380.54" y="280.40" font-family='"Liberation Sans", sans-serif' font-size="4.5" font-style="normal" font-weight="normal" text-anchor="middle" fill="#222">40</text>
<line x1="392.36" y1="272.25" x2="392.36" y2="274.85" stroke="#777" stroke-width="0.6"/>
<text x="392.36" y="280.40" font-family='"Liberation Sans", sans-serif' font-size="4.5" font-style="normal" font-weight="normal" text-anchor="middle" fill="#222">60</text>
<line x1="404.18" y1="272.25" x2="404.18" y2="274.85" stroke="#777" stroke-width="0.6"/>
<text x="404.18" y="280.40" font-family='"Liberation Sans", sans-serif' font-size="4.5" font-style="normal" font-weight="normal" text-anchor="middle" fill="#222">80</text>
<line x1="416.00" y1="272.25" x2="416.00" y2="274.85" stroke="#777" stroke-width="0.6"/>
<text x="416.00" y="280.40" font-family='"Liberation Sans", sans-serif' font-size="4.5" font-style="normal" font-weight="normal" text-anchor="middle" fill="#222">100</text>
<polyline points="357.10,228.40 369.40,229.10 375.50,230.60 380.20,232.20 384.80,233.70 394.00,234.20 406.50,235.60" fill="none" stroke="#8c8c8c" stroke-width="1.1" stroke-linejoin="miter" stroke-linecap="butt"/>
<polyline points="357.10,228.50 363.20,229.60 367.80,230.80 375.50,231.20 377.10,232.30 380.20,235.40 383.20,238.50 386.30,240.80 388.60,241.50 394.00,241.80 400.00,242.50 406.50,243.20" fill="none" stroke="#222" stroke-width="1.3" stroke-linejoin="miter" stroke-linecap="butt"/>
<text x="368.75" y="221.30" font-family='"Liberation Serif", serif' font-size="9.4" font-style="italic" font-weight="normal" text-anchor="start" fill="#1a1a1a" textLength="38.30" lengthAdjust="spacingAndGlyphs">HSJ/E.coli</text>
<text x="385.00" y="231.20" font-family='"Liberation Serif", serif' font-size="6.5" font-style="italic" font-weight="normal" text-anchor="start" fill="#1a1a1a" textLength="23.00" lengthAdjust="spacingAndGlyphs" stroke="#1a1a1a" stroke-width="0.15">122 (14)</text>
<text x="406.25" y="238.60" font-family='"Liberation Serif", serif' font-size="9" font-weight="bold" font-style="italic" fill="#1a1a1a" stroke="#1a1a1a" stroke-width="0.25" textLength="13.80" lengthAdjust="spacingAndGlyphs">(T)<tspan font-style="normal" font-size="10.35">-</tspan></text>
<text x="369.40" y="248.90" font-family='"Liberation Serif", serif' font-size="6.6" font-style="italic" font-weight="normal" text-anchor="start" fill="#1a1a1a" textLength="22.60" lengthAdjust="spacingAndGlyphs" stroke="#1a1a1a" stroke-width="0.15">114 (25)</text>
<text x="400.30" y="254.20" font-family='"Liberation Serif", serif' font-size="9" font-weight="bold" font-style="italic" fill="#1a1a1a" stroke="#1a1a1a" stroke-width="0.25" textLength="16.20" lengthAdjust="spacingAndGlyphs">(T)<tspan font-style="normal" font-size="9.00" dy="-0.3">+</tspan></text>
<text x="357.50" y="269.40" font-family='"Liberation Serif", serif' font-size="8.6" font-style="italic" font-weight="normal" text-anchor="start" fill="#1a1a1a" textLength="26.50" lengthAdjust="spacingAndGlyphs">p=0.03</text>
<text x="372.50" y="292.00" font-family='"Liberation Serif", serif' font-size="9" font-style="italic" font-weight="normal" text-anchor="start" fill="#1a1a1a" textLength="31.20" lengthAdjust="spacingAndGlyphs">G1343T</text>
<text x="423.80" y="287.10" font-family='"Liberation Serif", serif' font-size="9.6" font-style="normal" font-weight="normal" text-anchor="start" fill="#1a1a1a" textLength="16.20" lengthAdjust="spacingAndGlyphs">time</text>
<text x="355.00" y="308.40" font-family='"Liberation Serif", serif' font-size="8.6" fill="#1a1a1a" textLength="68.70" lengthAdjust="spacingAndGlyphs">HR<tspan font-size="5.16">T</tspan> = 2.0 (1.1-3.9)</text>
<text x="0" y="0" transform="translate(337.60,251.20) rotate(-90)" font-family='"Liberation Serif", serif' font-size="9.2" text-anchor="middle" fill="#1a1a1a" textLength="15" lengthAdjust="spacingAndGlyphs">EFS</text>
<rect x="442.70" y="223.60" width="65.40" height="46.70" fill="#efefef" stroke="#a6a6a6" stroke-width="0.8"/>
<line x1="440.20" y1="226.25" x2="442.70" y2="226.25" stroke="#777" stroke-width="0.6"/>
<text x="439.00" y="228.66" font-family='"Liberation Sans", sans-serif' font-size="4.2" font-style="normal" font-weight="normal" text-anchor="end" fill="#1a1a1a">1.0</text>
<line x1="440.20" y1="240.33" x2="442.70" y2="240.33" stroke="#777" stroke-width="0.6"/>
<text x="439.00" y="242.75" font-family='"Liberation Sans", sans-serif' font-size="4.2" font-style="normal" font-weight="normal" text-anchor="end" fill="#1a1a1a">0.8</text>
<line x1="440.20" y1="254.42" x2="442.70" y2="254.42" stroke="#777" stroke-width="0.6"/>
<text x="439.00" y="256.83" font-family='"Liberation Sans", sans-serif' font-size="4.2" font-style="normal" font-weight="normal" text-anchor="end" fill="#1a1a1a">0.6</text>
<line x1="440.20" y1="268.50" x2="442.70" y2="268.50" stroke="#777" stroke-width="0.6"/>
<text x="439.00" y="270.91" font-family='"Liberation Sans", sans-serif' font-size="4.2" font-style="normal" font-weight="normal" text-anchor="end" fill="#1a1a1a">0.4</text>
<line x1="445.00" y1="270.30" x2="445.00" y2="272.90" stroke="#777" stroke-width="0.6"/>
<text x="445.00" y="279.20" font-family='"Liberation Sans", sans-serif' font-size="4.8" font-style="normal" font-weight="normal" text-anchor="middle" fill="#222">0</text>
<line x1="457.12" y1="270.30" x2="457.12" y2="272.90" stroke="#777" stroke-width="0.6"/>
<text x="457.12" y="279.20" font-family='"Liberation Sans", sans-serif' font-size="4.8" font-style="normal" font-weight="normal" text-anchor="middle" fill="#222">20</text>
<line x1="469.24" y1="270.30" x2="469.24" y2="272.90" stroke="#777" stroke-width="0.6"/>
<text x="469.24" y="279.20" font-family='"Liberation Sans", sans-serif' font-size="4.8" font-style="normal" font-weight="normal" text-anchor="middle" fill="#222">40</text>
<line x1="481.36" y1="270.30" x2="481.36" y2="272.90" stroke="#777" stroke-width="0.6"/>
<text x="481.36" y="279.20" font-family='"Liberation Sans", sans-serif' font-size="4.8" font-style="normal" font-weight="normal" text-anchor="middle" fill="#222">60</text>
<line x1="493.48" y1="270.30" x2="493.48" y2="272.90" stroke="#777" stroke-width="0.6"/>
<text x="493.48" y="279.20" font-family='"Liberation Sans", sans-serif' font-size="4.8" font-style="normal" font-weight="normal" text-anchor="middle" fill="#222">80</text>
<line x1="505.60" y1="270.30" x2="505.60" y2="272.90" stroke="#777" stroke-width="0.6"/>
<text x="505.60" y="279.20" font-family='"Liberation Sans", sans-serif' font-size="4.8" font-style="normal" font-weight="normal" text-anchor="middle" fill="#222">100</text>
<polyline points="459.40,226.00 462.50,228.10 467.50,228.75 471.25,231.25 477.50,234.00 486.25,235.60 496.25,236.25" fill="none" stroke="#8c8c8c" stroke-width="1.3" stroke-linejoin="miter" stroke-linecap="butt"/>
<polyline points="445.60,226.00 459.40,226.00 459.40,235.60 468.75,235.60 468.75,245.60 473.10,245.60 473.10,255.60 495.60,255.60" fill="none" stroke="#484848" stroke-width="1.8" stroke-linejoin="miter" stroke-linecap="butt"/>
<text x="453.90" y="219.90" font-family='"Liberation Serif", serif' font-size="9.2" font-style="italic" font-weight="normal" text-anchor="start" fill="#1a1a1a" textLength="37.30" lengthAdjust="spacingAndGlyphs">HSJ/E.coli</text>
<text x="473.80" y="230.40" font-family='"Liberation Serif", serif' font-size="7.0" font-style="italic" font-weight="normal" text-anchor="start" fill="#1a1a1a" textLength="23.60" lengthAdjust="spacingAndGlyphs" stroke="#1a1a1a" stroke-width="0.15">224 (34)</text>
<text x="489.20" y="245.00" font-family='"Liberation Serif", serif' font-size="9" font-weight="bold" font-style="italic" fill="#1a1a1a" stroke="#1a1a1a" stroke-width="0.25" textLength="19.20" lengthAdjust="spacingAndGlyphs">(TT)<tspan font-style="normal" font-size="10.35">-</tspan></text>
<text x="452.40" y="246.50" font-family='"Liberation Serif", serif' font-size="6.6" font-style="italic" font-weight="normal" text-anchor="start" fill="#1a1a1a" textLength="11.00" lengthAdjust="spacingAndGlyphs" stroke="#1a1a1a" stroke-width="0.15">7(3)</text>
<text x="487.00" y="264.80" font-family='"Liberation Serif", serif' font-size="9" font-weight="bold" font-style="italic" fill="#1a1a1a" stroke="#1a1a1a" stroke-width="0.25" textLength="20.70" lengthAdjust="spacingAndGlyphs">(TT)<tspan font-style="normal" font-size="9.00" dy="-0.3">+</tspan></text>
<text x="443.75" y="268.30" font-family='"Liberation Serif", serif' font-size="8.6" font-style="italic" font-weight="normal" text-anchor="start" fill="#1a1a1a" textLength="26.80" lengthAdjust="spacingAndGlyphs">p=0.03</text>
<text x="469.00" y="292.80" font-family='"Liberation Serif", serif' font-size="9" font-style="italic" font-weight="normal" text-anchor="start" fill="#1a1a1a" textLength="20.60" lengthAdjust="spacingAndGlyphs">G34T</text>
<text x="442.80" y="308.60" font-family='"Liberation Serif", serif' font-size="8.6" fill="#1a1a1a" textLength="75.00" lengthAdjust="spacingAndGlyphs">HR<tspan font-size="5.16">TT</tspan> = 3.5 (1.1-11.3)</text>
</svg>
</body></html>
